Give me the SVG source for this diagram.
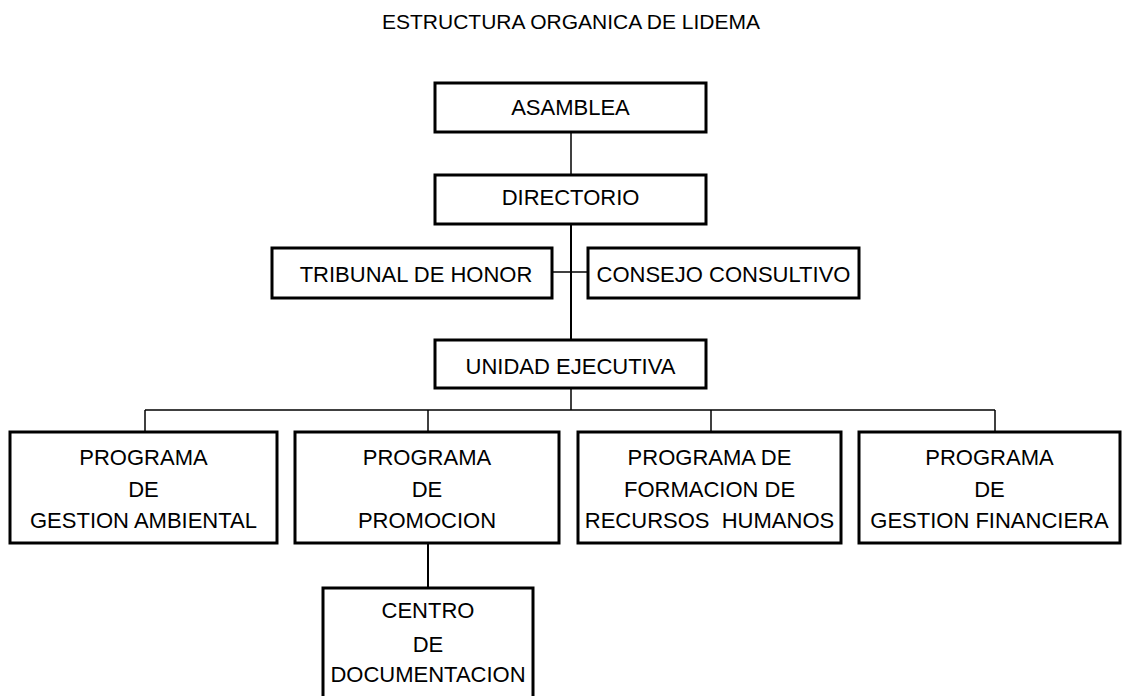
<svg xmlns="http://www.w3.org/2000/svg" width="1122" height="696" viewBox="0 0 1122 696">
<style>
.box{fill:#fff;stroke:#000;stroke-width:3}
.lbl{font-family:"Liberation Sans",Arial,sans-serif;font-size:22px;fill:#000;text-anchor:middle}
.title{font-family:"Liberation Sans",Arial,sans-serif;font-size:21px;fill:#000;text-anchor:middle}
.con{stroke:#000;stroke-width:1.5;fill:none}
</style>
<rect width="1122" height="696" fill="#fff"/>
<text class="title" x="571" y="29">ESTRUCTURA ORGANICA DE LIDEMA</text>
<g id="connectors">
<line class="con" x1="571" y1="132" x2="571" y2="175"/>
<line class="con" x1="571" y1="224" x2="571" y2="340" style="stroke-width:2"/>
<line class="con" x1="552" y1="272" x2="588" y2="272"/>
<line class="con" x1="571" y1="388" x2="571" y2="410"/>
<line class="con" x1="145" y1="410" x2="995" y2="410"/>
<line class="con" x1="145" y1="410" x2="145" y2="432"/>
<line class="con" x1="428" y1="410" x2="428" y2="432"/>
<line class="con" x1="711" y1="410" x2="711" y2="432"/>
<line class="con" x1="995" y1="410" x2="995" y2="432"/>
<line class="con" x1="428" y1="543" x2="428" y2="588" style="stroke-width:2"/>
</g>
<g id="asamblea">
<rect class="box" x="435" y="83" width="271" height="49"/>
<text class="lbl" x="570.5" y="115">ASAMBLEA</text>
</g>
<g id="directorio">
<rect class="box" x="435" y="175" width="271" height="49"/>
<text class="lbl" x="570.5" y="205">DIRECTORIO</text>
</g>
<g id="tribunal">
<rect class="box" x="272" y="248" width="280" height="50"/>
<text class="lbl" x="416" y="282">TRIBUNAL DE HONOR</text>
</g>
<g id="consejo">
<rect class="box" x="588" y="248" width="271" height="50"/>
<text class="lbl" x="723.5" y="282">CONSEJO CONSULTIVO</text>
</g>
<g id="unidad">
<rect class="box" x="435" y="340" width="271" height="48"/>
<text class="lbl" x="570.5" y="374">UNIDAD EJECUTIVA</text>
</g>
<g id="gestion-ambiental">
<rect class="box" x="10" y="432" width="267" height="111"/>
<text class="lbl" x="143.5" y="465">PROGRAMA</text>
<text class="lbl" x="143.5" y="497">DE</text>
<text class="lbl" x="143.5" y="528">GESTION AMBIENTAL</text>
</g>
<g id="promocion">
<rect class="box" x="295" y="432" width="264" height="111"/>
<text class="lbl" x="427" y="465">PROGRAMA</text>
<text class="lbl" x="427" y="497">DE</text>
<text class="lbl" x="427" y="528">PROMOCION</text>
</g>
<g id="formacion">
<rect class="box" x="578" y="432" width="263" height="111"/>
<text class="lbl" x="709.5" y="465">PROGRAMA DE</text>
<text class="lbl" x="709.5" y="497">FORMACION DE</text>
<text class="lbl" x="709.5" y="528" xml:space="preserve">RECURSOS  HUMANOS</text>
</g>
<g id="gestion-financiera">
<rect class="box" x="859" y="432" width="261" height="111"/>
<text class="lbl" x="989.5" y="465">PROGRAMA</text>
<text class="lbl" x="989.5" y="497">DE</text>
<text class="lbl" x="989.5" y="528">GESTION FINANCIERA</text>
</g>
<g id="centro">
<rect class="box" x="323" y="588" width="210" height="120"/>
<text class="lbl" x="428" y="618">CENTRO</text>
<text class="lbl" x="428" y="652">DE</text>
<text class="lbl" x="428" y="682">DOCUMENTACION</text>
</g>
</svg>
